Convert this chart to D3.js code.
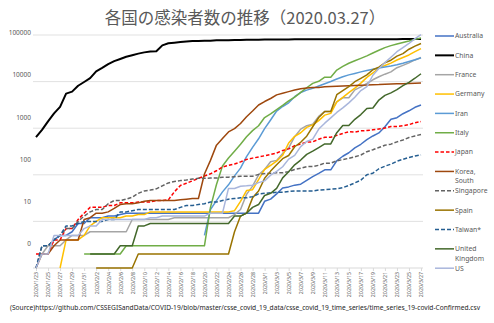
<!DOCTYPE html>
<html><head><meta charset="utf-8">
<script src="https://cdn.jsdelivr.net/npm/d3@7"></script>
<style>
html,body{margin:0;padding:0;background:#fff;}
svg{display:block;}
</style></head>
<body><svg id="c" width="494" height="323"></svg>
<script>
const title = "各国の感染者数の推移（2020.03.27）";
const source = "(Source)https://github.com/CSSEGISandData/COVID-19/blob/master/csse_covid_19_data/csse_covid_19_time_series/time_series_19-covid-Confirmed.csv";
const startDate = "2020-01-23", endDate = "2020-03-27";
const yTicks = [1, 10, 100, 1000, 10000, 100000];
const yTickLabels = ["0", "10", "100", "1000", "10000", "100000"];
const n = null;

const countries = ["Australia","China","France","Germany","Iran","Italy","Japan","Korea, South","Singapore","Spain","Taiwan*","United Kingdom","US"];
const colors = ["#4472C4","#000000","#A5A5A5","#FFC000","#5B9BD5","#70AD47","#FF0000","#9E480E","#636363","#997300","#255E91","#43682B","#A9B6DC"];
const dashes = [null,null,null,null,null,null,"3.5,2",null,"4,2",null,"4,2",null,null];

// values 2020/1/23 .. 2020/3/27 (Jan 23-31, Feb 1-29, Mar 1-27)
const australia = [n,n,n,4,5,5,6,9,9,
 12,12,12,13,13,14,15,15,15,15,15,15,15,15,15,15,15,15,15,15,15,15,15,15,15,15,15,15,15,
 27,30,39,52,55,60,63,76,91,107,128,128,200,250,297,377,452,568,681,791,1071,1549,1682,2044,2364,2810,3143];
const china = [643,920,1406,2075,2877,5509,6087,8141,9802,
 11891,16630,19716,23707,27440,30587,34110,36814,39829,42354,44386,44759,59895,66358,68413,70513,72434,74211,74619,75077,75550,77001,77022,77241,77754,78166,78600,78928,79356,
 79932,80136,80261,80386,80537,80690,80770,80823,80860,80887,80921,80932,80945,80977,81003,81033,81058,81102,81156,81250,81305,81435,81498,81591,81661,81782,81897];
const france = [n,2,3,3,3,4,5,5,5,
 6,6,6,6,6,6,6,11,11,11,11,11,11,11,12,12,12,12,12,12,12,12,12,12,14,18,38,57,100,
 130,191,204,288,380,656,957,1134,1217,1792,2289,2289,3672,4480,4513,6650,7699,9105,10947,12726,14431,16176,19856,22304,25233,29155,32964];
const germany = [n,n,n,n,1,4,4,4,5,
 8,10,12,12,12,12,13,13,14,14,16,16,16,16,16,16,16,16,16,16,16,16,16,16,17,27,46,48,79,
 130,159,196,262,482,670,799,1040,1176,1457,1908,2078,3675,4585,5795,7272,9257,12327,15320,19848,22213,24873,29056,32986,37323,43938,50871];
const iran = [n,n,n,n,n,n,n,n,n,
 n,n,n,n,n,n,n,n,n,n,n,n,n,n,n,n,n,n,n,5,18,28,43,61,95,139,245,388,593,
 978,1501,2336,2922,3513,4747,5823,6566,7161,8042,9000,10075,11364,12729,13938,14991,16169,17361,18407,19644,20610,21638,23049,24811,27017,29406,32332];
const italy = [n,n,n,n,n,n,n,n,2,
 2,2,2,2,2,2,3,3,3,3,3,3,3,3,3,3,3,3,3,3,20,62,155,229,322,453,655,888,1128,
 1694,2036,2502,3089,3858,4636,5883,7375,9172,10149,12462,12462,17660,21157,24747,27980,31506,35713,41035,47021,53578,59138,63927,69176,74386,80589,86498];
const japan = [2,2,2,4,4,7,7,11,15,
 20,20,20,22,22,25,25,25,26,26,26,28,28,29,43,59,66,74,84,94,105,122,147,159,170,189,214,228,241,
 256,274,293,331,360,420,461,502,511,581,639,639,701,773,839,825,878,889,924,963,1007,1086,1086,1128,1193,1307,1387];
const korea = [1,2,2,3,4,4,4,4,11,
 12,15,15,16,19,23,24,24,25,27,28,28,28,28,28,29,30,31,31,104,204,433,602,833,977,1261,1766,2337,3150,
 3736,4335,5186,5621,6088,6593,7041,7314,7478,7513,7755,7869,7979,8086,8162,8236,8320,8413,8565,8652,8799,8897,8961,9037,9137,9241,9332];
const singapore = [1,3,3,4,5,7,7,10,13,
 16,18,18,24,28,28,30,33,40,45,47,50,58,67,72,75,77,81,84,84,85,85,89,89,91,93,93,93,102,
 106,108,110,110,117,130,138,150,150,160,178,178,200,212,226,243,266,313,345,385,432,455,509,558,631,683,732];
const spain = [n,n,n,n,n,n,n,n,n,
 n,1,1,1,1,1,1,1,2,2,2,2,2,2,2,2,2,2,2,2,2,2,2,2,6,13,15,32,45,
 84,120,165,222,259,400,500,673,1073,1695,2277,2277,5232,6391,7798,9942,11748,13910,17963,20410,25374,28768,35136,39885,49515,57786,65719];
const taiwan = [1,3,3,4,5,8,8,9,10,
 10,10,10,11,11,16,16,17,18,18,18,18,18,18,18,20,22,22,23,24,26,26,28,30,31,32,32,34,39,
 40,41,42,42,44,45,45,45,45,47,48,49,50,53,59,67,77,100,108,135,153,169,195,215,235,252,267];
const uk = [n,n,n,n,n,n,n,n,n,
 2,2,2,2,2,3,3,3,8,8,9,9,9,9,9,9,9,9,9,9,9,9,9,9,13,13,15,20,23,
 36,40,51,86,116,164,207,274,322,384,459,459,802,1144,1145,1551,1960,2642,2716,4014,5067,5745,6726,8164,9640,11812,14745];
const us = [1,2,2,5,5,5,5,5,7,
 8,8,11,11,11,11,11,11,11,11,12,12,13,13,13,13,13,13,13,13,15,15,15,51,51,57,58,60,68,
 74,98,118,149,217,262,402,518,583,959,1281,1663,2179,2727,3499,4632,6421,7783,13677,19100,25489,33276,43847,53740,65778,83836,101657];

const seriesValues = [australia,china,france,germany,iran,italy,japan,korea,singapore,spain,taiwan,uk,us];

const parse = d3.utcParse("%Y-%m-%d");
const dates = d3.utcDay.range(parse(startDate), d3.utcDay.offset(parse(endDate), 1));
const fmt = d => `${d.getUTCFullYear()}/${d.getUTCMonth()+1}/${d.getUTCDate()}`;

const svg = d3.select("#c");
const plot = {left: 36, right: 421, top: 35, bottom: 268};

const x = d3.scaleUtc().domain([dates[0], dates[dates.length-1]]).range([plot.left, plot.right]);
const y = d3.scaleLog().domain([1, 100000]).range([plot.bottom, plot.top]);
const yLab = d3.scaleLog().domain([1, 100000]).range([244, 33]);

const font = "'Noto Sans', 'Open Sans', sans-serif";

// title
svg.append("text").attr("x", 245).attr("y", 24).attr("text-anchor","middle")
  .attr("font-family","'Noto Sans CJK JP', sans-serif").attr("font-size",16.5)
  .attr("fill","#595959").text(title);

// gridlines
svg.append("g").selectAll("line").data(yTicks.slice(1)).join("line")
  .attr("x1", 33).attr("x2", 423)
  .attr("y1", d => y(d)).attr("y2", d => y(d))
  .attr("stroke","#d9d9d9").attr("stroke-width",0.8);

// y labels
svg.append("g").selectAll("text").data(yTicks).join("text")
  .attr("x", 31).attr("y", d => yLab(d)).attr("dy","0.35em")
  .attr("text-anchor","end").attr("font-family",font).attr("font-size",6.5)
  .attr("fill","#595959").text((d,i) => yTickLabels[i]);

// x axis
const labelDates = dates.filter((d,i) => i % 2 === 0);
const xAxis = d3.axisBottom(x).tickValues(labelDates).tickSize(3).tickFormat(fmt);
const gx = svg.append("g").attr("transform",`translate(0,${plot.bottom})`).call(xAxis);
gx.select(".domain").attr("d", `M33,0H423`).attr("stroke","#d9d9d9");
gx.selectAll(".tick line").attr("stroke","#d9d9d9");
gx.selectAll(".tick text")
  .attr("font-family",font).attr("font-size",5.3).attr("fill","#595959")
  .attr("text-anchor","end").attr("transform","rotate(-90)")
  .attr("x",-4).attr("y",0).attr("dy","0.35em");

// lines
const line = d3.line().defined(d => d.v != null && d.v > 0)
  .x(d => x(d.date)).y(d => y(d.v));
const g = svg.append("g");
countries.forEach((c,i) => {
  const data = dates.map((d,j) => ({date:d, v: seriesValues[i][j]}));
  g.append("path").datum(data).attr("d", line)
    .attr("fill","none").attr("stroke",colors[i])
    .attr("stroke-width", c === "China" ? 2 : 1.5)
    .attr("stroke-dasharray", dashes[i])
    .attr("stroke-linejoin","round");
});

// legend
const lg = svg.append("g");
countries.forEach((c,i) => {
  const ly = 36 + i*19.35;
  lg.append("line").attr("x1",435).attr("x2",454).attr("y1",ly).attr("y2",ly)
    .attr("stroke",colors[i]).attr("stroke-width", c==="China"?2:1.5)
    .attr("stroke-dasharray", dashes[i]);
  const parts = c.length > 10 ? c.split(" ") : [c];
  const t = lg.append("text").attr("x",455).attr("y",ly)
    .attr("font-family",font).attr("font-size",6.8).attr("fill","#595959");
  parts.forEach((p,k) => t.append("tspan").attr("x",455).attr("dy", k===0 ? "0.35em" : 9.5).text(p));
});

// source
svg.append("text").attr("x", 10).attr("y", 310)
  .attr("font-family",font).attr("font-size",6.3).attr("fill","#262626")
  .attr("textLength", 470).attr("lengthAdjust","spacingAndGlyphs").text(source);
</script></body></html>
